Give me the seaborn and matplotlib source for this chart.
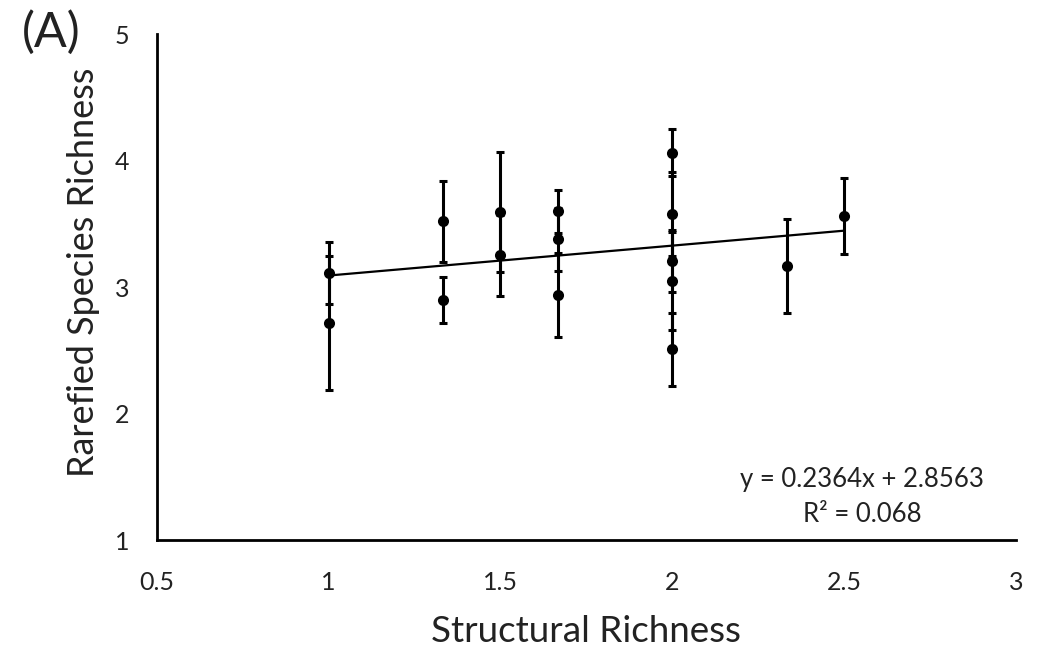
import numpy as np
import pandas as pd
import seaborn as sns
import matplotlib.pyplot as plt

# values
structural = [1.0, 1.0, 1.333, 1.333, 1.5, 1.5, 1.667, 1.667, 1.667,
              2.0, 2.0, 2.0, 2.0, 2.0, 2.333, 2.5]
rarefied = [3.11, 2.72, 3.52, 2.90, 3.595, 3.253, 3.60, 3.38, 2.94,
            4.065, 3.58, 3.21, 3.05, 2.51, 3.17, 3.565]
errors = [0.245, 0.53, 0.32, 0.18, 0.475, 0.32, 0.17, 0.25, 0.33,
          0.185, 0.33, 0.245, 0.39, 0.29, 0.37, 0.30]
slope = 0.2364
intercept = 2.8563
r_squared = 0.068

df = pd.DataFrame({"x": structural, "y": rarefied, "err": errors})
trend_x = [min(structural), max(structural)]
trend = pd.DataFrame({"x": trend_x, "y": [slope * v + intercept for v in trend_x]})

sns.set_style("white")
plt.rcParams["font.family"] = ["Lato", "DejaVu Sans"]

fig = plt.figure(figsize=(10.45, 6.47), dpi=100)
ax = fig.add_axes([0.150, 0.165, 0.822, 0.782])

ax.errorbar(df["x"], df["y"], yerr=df["err"], fmt="none", ecolor="black",
            elinewidth=2.2, capsize=3.2, capthick=2.2, zorder=2)
sns.lineplot(data=trend, x="x", y="y", color="black", linewidth=1.6, ax=ax, zorder=3)
sns.scatterplot(data=df, x="x", y="y", color="black", s=64, edgecolor="black",
                linewidth=0, ax=ax, zorder=4)

ax.set_xlim(0.5, 3)
ax.set_ylim(1, 5)
ax.set_xticks([0.5, 1, 1.5, 2, 2.5, 3])
ax.set_xticklabels(["0.5", "1", "1.5", "2", "2.5", "3"])
ax.set_yticks([1, 2, 3, 4, 5])
ax.tick_params(axis="both", length=0, labelsize=18, colors="#222222")
ax.tick_params(axis="x", pad=22)
ax.tick_params(axis="y", pad=20)

sns.despine(ax=ax)
for side in ["left", "bottom"]:
    ax.spines[side].set_color("black")
    ax.spines[side].set_linewidth(2)

ax.set_xlabel("Structural Richness", fontsize=26.5, color="#222222", labelpad=15)
ax.set_ylabel("Rarefied Species Richness", fontsize=26, color="#222222", labelpad=10)
ax.yaxis.label.set_y(0.53)

ax.text(0.821, 0.085, f"y = {slope}x + {intercept}\nR² = {r_squared}",
        transform=ax.transAxes, ha="center", va="center", fontsize=18.5,
        color="#222222", linespacing=1.5)

fig.text(0.049, 0.95, "(A)", fontsize=35, ha="center", va="center", color="#222222")

fig.savefig("out.png", dpi=100)
